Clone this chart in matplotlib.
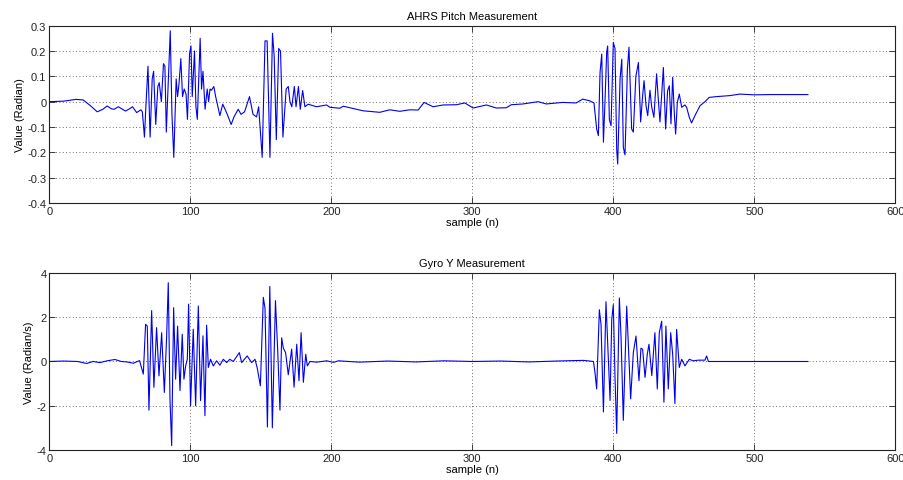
import matplotlib
matplotlib.use("Agg")
import matplotlib.pyplot as plt
import numpy as np

plt.rcParams['font.family'] = ['Liberation Sans', 'DejaVu Sans']

# AHRS pitch (rad) sampled at key turning points
pitch_n = [0, 10, 19, 24, 29, 34, 38, 41, 44, 46, 49, 52, 54, 57, 59, 62, 65, 66,
           67.5, 68.5, 70, 71.5, 73, 74, 75.5, 77, 78, 79.5, 81, 82, 83, 84.5, 85.8,
           87, 88.3, 90, 91, 92, 93.3, 94.5, 95.7, 97, 98, 99.5, 100.5, 101.4, 103,
           104, 105, 107, 108, 109, 110.5, 112, 113, 114, 115, 116.7, 118, 121, 123,
           125.5, 129, 131, 134, 136, 138.5, 142, 144.5, 147, 148.5, 151, 153, 154.5,
           156.5, 158.3, 159.5, 161, 162.7, 164, 165.7, 168, 169.5, 170.7, 172, 173.8,
           175, 176.7, 178, 179.7, 181.3, 183.6, 189.5, 196.6, 199, 206, 208.5, 222.6,
           234.4, 241.5, 248.6, 255.7, 261.6, 265.8, 272.2, 279.3, 288.8, 294.7, 300.6,
           310, 317, 324, 327.7, 336, 346.6, 352.5, 364, 373.6, 378.3, 383, 386.3,
           388.2, 389.4, 390.6, 391.8, 393, 394.1, 395.3, 396, 397.2, 398.4, 400,
           401.2, 402.4, 403.1, 404.8, 406, 407.1, 408.3, 410, 411.1, 413, 414.2, 416,
           417.8, 419.4, 420.8, 421.8, 423.2, 424.4, 426, 427.2, 428.8, 430.7, 431.9,
           433.1, 435.5, 437.1, 438.5, 439.7, 440.9, 442.1, 443.3, 444.2, 445.4,
           446.8, 448.5, 450.8, 452, 453.9, 455.5, 457.9, 461.5, 465, 468, 473.3,
           482.7, 489.8, 500, 510, 520, 530, 538]
pitch_v = [0.0, 0.002, 0.009, 0.007, -0.015, -0.04, -0.03, -0.017, -0.028, -0.03,
           -0.02, -0.03, -0.037, -0.028, -0.02, -0.043, -0.032, -0.04,
           -0.14, -0.02, 0.14, -0.14, 0.09, 0.12, -0.09, 0.06, 0.075, 0.0, 0.15, 0.14,
           -0.12, 0.1, 0.28, -0.05, -0.22, 0.09, 0.02, 0.07, 0.17, 0.02, 0.05, 0.03,
           -0.07, 0.19, 0.22, 0.02, 0.2, -0.02, -0.07, 0.25, 0.05, 0.12, -0.03, 0.05,
           0.0, 0.05, 0.045, 0.06, 0.02, -0.055, -0.01, -0.04, -0.09, -0.06, -0.03,
           -0.05, -0.04, 0.02, -0.05, -0.06, -0.02, -0.22, 0.24, 0.24, -0.22, 0.27,
           0.18, -0.15, 0.21, 0.2, -0.14, 0.05, 0.06, 0.0, -0.02, 0.06, -0.02, 0.06,
           -0.03, 0.044, -0.02, -0.01, -0.02, -0.013, -0.022, -0.026, -0.018, -0.036,
           -0.042, -0.032, -0.038, -0.032, -0.033, -0.003, -0.02, -0.013, -0.012,
           -0.005, -0.025, -0.013, -0.025, -0.024, -0.012, -0.009, 0.0, -0.009,
           -0.003, -0.005, 0.01, 0.004, -0.005,
           -0.108, -0.134, 0.116, 0.188, -0.16, 0.0, 0.195, 0.22, -0.07, -0.095,
           0.234, 0.21, -0.187, -0.246, 0.09, 0.168, -0.18, -0.21, 0.129, 0.215,
           -0.108, -0.12, 0.1, 0.155, -0.08, 0.024, 0.083, -0.016, -0.055, 0.045,
           -0.02, -0.062, 0.11, 0.01, -0.08, 0.135, -0.108, 0.043, 0.063, -0.088,
           0.096, -0.05, -0.128, -0.003, 0.03, -0.022, -0.013, -0.022, -0.062,
           -0.084, -0.055, -0.016, 0.0, 0.017, 0.02, 0.024, 0.03, 0.027, 0.028,
           0.028, 0.028, 0.028]

# Gyro Y rate (rad/s) sampled at key turning points
gyro_n = [0, 10, 20, 26.5, 31, 36, 41, 46.6, 51, 55, 59.6, 64, 66.7, 68.3, 69.5,
          70.7, 72.6, 74.2, 76.1, 77.8, 79.7, 81.6, 83.2, 84.4, 85.6, 86.8, 88.2,
          89.6, 91, 92.7, 94.3, 95.5, 96.7, 97.9, 98.8, 100.2, 102.1, 103.8, 105.7,
          107.3, 109, 110.4, 111.6, 112.8, 114.4, 116.3, 118.7, 121, 123.4, 125.8,
          128, 130.5, 134.8, 136.4, 140.4, 143.5, 145.9, 147.5, 149.7, 151.8, 153,
          154.7, 156.4, 158.2, 160.4, 162, 163.6, 164.8, 166, 167.6, 169.5, 171.9,
          173.6, 175.5, 177.1, 178.6, 180.2, 181.9, 183, 184.9, 189.7, 196.8, 201.5,
          205, 220, 240, 260, 280, 300, 320, 340, 360, 378.8, 385.9, 387, 388.2,
          390.1, 391.3, 393, 394.8, 396, 397.7, 398.9, 400, 401.2, 402.4, 404.3,
          405.5, 407.1, 409.5, 411.4, 412.3, 414.2, 416.1, 418.2, 419.6, 420.8,
          422.5, 424.1, 425.3, 427.3, 429.5, 431.2, 432.6, 434.3, 435.9, 437.3, 439,
          440.7, 442.1, 443.7, 444.9, 446.8, 448.5, 450.8, 453.9, 456.7, 460.3, 465,
          466.2, 467.4, 473.3, 500, 538]
gyro_v = [0.0, 0.02, 0.0, -0.09, 0.0, -0.05, 0.03, 0.09, 0.0, -0.02, -0.08, 0.04,
          -0.57, 1.68, 1.6, -2.2, 2.3, -1.17, 1.53, -0.65, 1.3, -1.4, 1.08, 3.56,
          -1.7, -3.8, 2.43, -0.8, 1.6, -1.32, 1.23, -0.8, -0.2, 0.1, 2.59, -2.0,
          1.46, -2.0, 2.51, -1.77, 1.16, -2.45, 1.64, -0.27, 0.1, -0.2, 0.03, -0.17,
          0.1, -0.05, 0.1, 0.0, 0.4, -0.05, 0.25, -0.05, 0.1, -0.3, -1.1, 2.9, 2.4,
          -2.96, 3.39, -3.0, 2.75, 0.5, -2.2, 1.07, 0.6, 0.4, -0.6, 0.56, -1.16,
          0.78, -0.87, 1.3, -0.94, 0.33, -0.2, 0.0, -0.03, 0.03, -0.04, 0.03, -0.03,
          0.02, -0.02, 0.03, 0.0, 0.02, -0.02, 0.02, 0.05, 0.0, -0.5, -1.24, 2.34,
          1.67, -2.28, 2.7, 0.9, -1.76, 1.9, 2.57, -0.7, -3.25, 2.87, 1.1, -2.66,
          2.5, -0.4, -1.69, 0.4, 1.15, -0.87, 0.6, 0.55, -0.72, 0.33, 0.78, -0.64,
          1.3, -1.24, 1.3, 1.82, -1.84, 1.6, -1.24, 1.3, 0.33, -1.9, 1.45, -0.27,
          0.1, -0.2, 0.1, 0.03, 0.06, 0.06, 0.25, 0.0, 0.0, 0.0, 0.0]

x_ticks = [0, 100, 200, 300, 400, 500, 600]
pitch_ticks = [-0.4, -0.3, -0.2, -0.1, 0, 0.1, 0.2, 0.3]
pitch_labels = ['-0.4', '-0.3', '-0.2', '-0.1', '0', '0.1', '0.2', '0.3']
gyro_ticks = [-4, -2, 0, 2, 4]
gyro_labels = ['-4', '-2', '0', '2', '4']

fig = plt.figure(figsize=(9.04, 4.81), dpi=100)
ax1 = fig.add_axes([0.0545, 0.5759, 0.9359, 0.3686])
ax2 = fig.add_axes([0.0545, 0.0624, 0.9359, 0.3680])


def style(ax, yticks, ylabels, ylim, title, ylabel):
    ax.set_xlim(0, 600)
    ax.set_ylim(*ylim)
    ax.set_xticks(x_ticks)
    ax.set_xticklabels([str(t) for t in x_ticks])
    ax.set_yticks(yticks)
    ax.set_yticklabels(ylabels)
    ax.grid(True, color='#404040', linestyle=(0, (1, 3)), linewidth=0.6)
    ax.tick_params(direction='in', length=4, width=0.6, labelsize=8,
                   top=True, right=True, pad=2, colors='#222222')
    for s in ax.spines.values():
        s.set_linewidth(0.8)
        s.set_color('#222222')
    ax.set_title(title, fontsize=8, pad=5)
    ax.set_xlabel('sample (n)', fontsize=8, labelpad=1)
    ax.set_ylabel(ylabel, fontsize=8, labelpad=2)


ax1.plot(pitch_n, pitch_v, color='#0000ee', linewidth=0.8)
style(ax1, pitch_ticks, pitch_labels, (-0.4, 0.3), 'AHRS Pitch Measurement',
      'Value (Radian)')

ax2.plot(gyro_n, gyro_v, color='#0000ee', linewidth=0.8)
style(ax2, gyro_ticks, gyro_labels, (-4, 4), 'Gyro Y Measurement',
      'Value (Radian/s)')

fig.savefig('out.png', dpi=100)
